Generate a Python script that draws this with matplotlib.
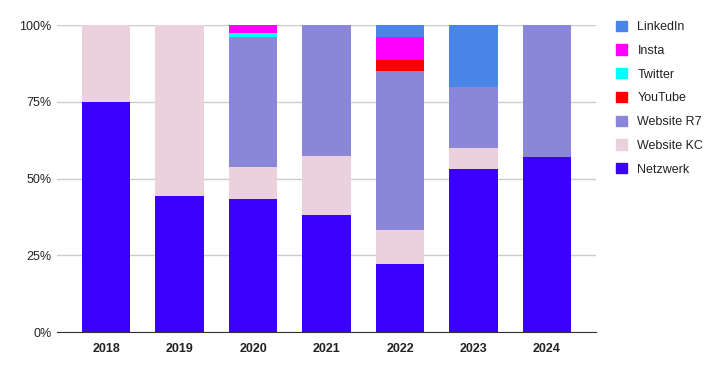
import numpy as np
import matplotlib
matplotlib.use("Agg")
from matplotlib import pyplot as plt
from matplotlib.patches import Patch

plt.rcParams['font.family'] = ['Liberation Sans', 'DejaVu Sans']

jahre = ["2018", "2019", "2020", "2021", "2022", "2023", "2024"]

# Anteile in Prozent
netzwerk   = [75.0, 44.5, 43.4, 38.3, 22.2, 53.3, 57.1]
website_kc = [25.0, 55.5, 10.4, 19.0, 11.1,  6.7,  0.0]
website_r7 = [ 0.0,  0.0, 42.5, 42.7, 51.8, 20.0, 42.9]
youtube    = [ 0.0,  0.0,  0.0,  0.0,  3.7,  0.0,  0.0]
twitter    = [ 0.0,  0.0,  1.3,  0.0,  0.0,  0.0,  0.0]
insta      = [ 0.0,  0.0,  2.4,  0.0,  7.4,  0.0,  0.0]
linkedin   = [ 0.0,  0.0,  0.0,  0.0,  3.8, 20.0,  0.0]

serien = ["Netzwerk", "Website KC", "Website R7", "YouTube", "Twitter", "Insta", "LinkedIn"]
werte = [netzwerk, website_kc, website_r7, youtube, twitter, insta, linkedin]
farben = ["#3a00ff", "#ead1dc", "#8a86d8", "#ff0000", "#00ffff", "#ff00ff", "#4a86e8"]

fig = plt.figure(figsize=(7.21, 3.71), dpi=100)
ax = fig.add_axes([0.079, 0.105, 0.748, 0.827])

x = np.arange(len(jahre))
unten = np.zeros(len(jahre))
for name, w, f in zip(serien, werte, farben):
    w = np.array(w)
    ax.bar(x, w, 0.66, bottom=unten, color=f, label=name, zorder=2)
    unten = unten + w

ax.set_xlim(-0.67, 6.67)
ax.set_ylim(0, 100)
ax.set_yticks([0, 25, 50, 75, 100])
ax.set_yticklabels(["0%", "25%", "50%", "75%", "100%"], fontsize=9, color="#222222")
ax.set_xticks(x)
ax.set_xticklabels(jahre, fontsize=9, fontweight="bold", color="#222222")
ax.tick_params(length=0, pad=8)
ax.tick_params(axis="y", pad=4)
ax.grid(axis="y", color="#cccccc", linewidth=1, zorder=0)
for s in ["top", "right", "left"]:
    ax.spines[s].set_visible(False)
ax.spines["bottom"].set_color("#333333")
ax.spines["bottom"].set_zorder(3)

griffe = [Patch(color=f, label=n) for n, f in zip(serien, farben)][::-1]
fig.legend(handles=griffe, loc="upper left", bbox_to_anchor=(0.839, 0.975),
           frameon=False, fontsize=9, handlelength=0.9, handleheight=0.9,
           handletextpad=0.8, labelspacing=0.9, labelcolor="#222222")

plt.savefig("out.png", dpi=100)
